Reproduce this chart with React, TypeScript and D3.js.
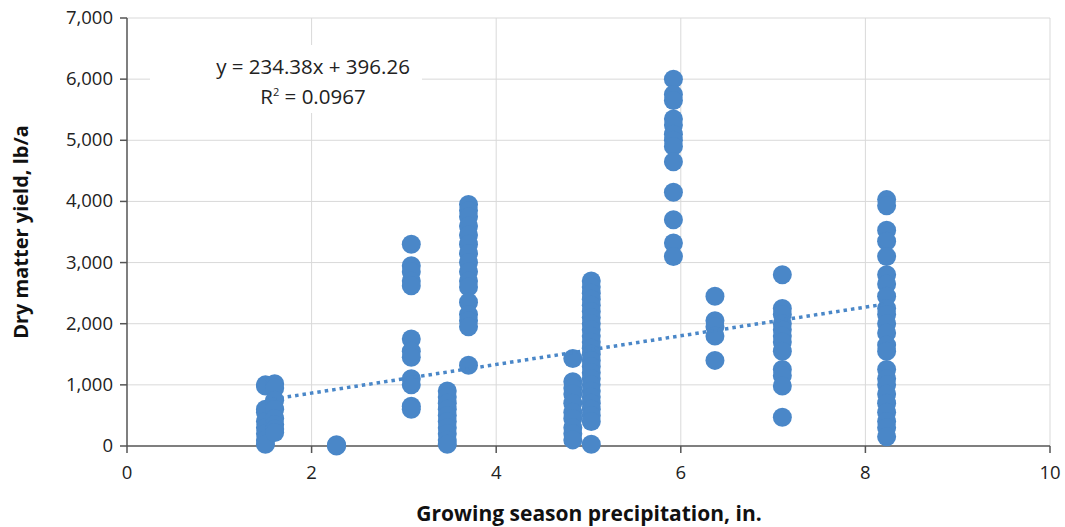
import React from "react";
import * as d3 from "d3";

const xTicks = [0, 2, 4, 6, 8, 10];
const yTicks = [0, 1000, 2000, 3000, 4000, 5000, 6000, 7000];
const clusterX = [1.5, 1.6, 2.27, 3.08, 3.47, 3.7, 4.83, 5.03, 5.92, 6.37, 7.1, 8.23];
const clusterY: number[][] = [
  [1000, 980, 600, 550, 400, 300, 200, 100, 30],
  [1020, 950, 750, 600, 450, 350, 280, 220],
  [20, 0, 10],
  [3300, 2950, 2850, 2700, 2620, 1750, 1550, 1450, 1100, 1000, 650, 600],
  [900, 800, 700, 600, 500, 400, 300, 200, 100, 30],
  [3950, 3850, 3750, 3600, 3450, 3300, 3150, 3000, 2850, 2700, 2600, 2350, 2150, 2050, 1950, 1320],
  [1430, 1050, 950, 850, 700, 550, 450, 300, 200, 100],
  [2700, 2600, 2500, 2400, 2300, 2200, 2100, 2000, 1900, 1800, 1700, 1600, 1500, 1400, 1300, 1200, 1100, 1000, 900, 800, 700, 600, 500, 400, 30],
  [6000, 5750, 5650, 5350, 5250, 5100, 5000, 4900, 4650, 4150, 3700, 3320, 3100],
  [2450, 2050, 1950, 1800, 1400],
  [2800, 2250, 2150, 2000, 1900, 1800, 1700, 1550, 1250, 1150, 980, 470],
  [4030, 3930, 3530, 3350, 3100, 2800, 2650, 2450, 2250, 2150, 2000, 1850, 1650, 1550, 1250, 1100, 1000, 850, 700, 550, 400, 300, 150],
];
const slope = 234.38;
const intercept = 396.26;

export default function App() {
  const x = d3.scaleLinear().domain([0, 10]).range([127, 1050]);
  const y = d3.scaleLinear().domain([0, 7000]).range([446, 18]);
  const color = "#4a87c8";
  const font = "'Open Sans', 'Liberation Sans', sans-serif";
  const pts = clusterX.flatMap((cx, i) => clusterY[i].map((v) => [cx, v]));
  const x0 = clusterX[0], x1 = clusterX[clusterX.length - 1];
  return (
    <svg width={1065} height={527} style={{ position: "absolute", left: 0, top: 0 }} fontFamily={font}>
      <rect width={1065} height={527} fill="#fff" />
      {yTicks.slice(1).map((t) => (
        <line key={"h" + t} x1={x(0)} x2={x(10)} y1={y(t)} y2={y(t)} stroke="#d9d9d9" strokeWidth={1} />
      ))}
      {xTicks.slice(1).map((t) => (
        <line key={"v" + t} x1={x(t)} x2={x(t)} y1={y(0)} y2={y(7000)} stroke="#d9d9d9" strokeWidth={1} />
      ))}
      <rect x={150} y={45} width={272} height={68} fill="#fff" />
      <text x={313} y={74} textAnchor="middle" fontSize={20.5} fill="#222">y = 234.38x + 396.26</text>
      <text x={313} y={104} textAnchor="middle" fontSize={20.5} fill="#222">
        R<tspan dy={-8} fontSize={11}>2</tspan><tspan dy={8}> = 0.0967</tspan>
      </text>
      <line x1={x(0)} x2={x(0)} y1={y(0)} y2={y(7000)} stroke="#555" strokeWidth={1.5} />
      <line x1={x(0)} x2={x(10)} y1={y(0)} y2={y(0)} stroke="#555" strokeWidth={1.5} />
      {yTicks.map((t) => (
        <g key={"yt" + t}>
          <line x1={x(0) - 7} x2={x(0)} y1={y(t)} y2={y(t)} stroke="#555" strokeWidth={1.5} />
          <text x={x(0) - 14} y={y(t) + 6} textAnchor="end" fontSize={18.5} fill="#222">{d3.format(",")(t)}</text>
        </g>
      ))}
      {xTicks.map((t) => (
        <g key={"xt" + t}>
          <line x1={x(t)} x2={x(t)} y1={y(0)} y2={y(0) + 7} stroke="#555" strokeWidth={1.5} />
          <text x={x(t)} y={y(0) + 33} textAnchor="middle" fontSize={18.5} fill="#222">{t}</text>
        </g>
      ))}
      {pts.map(([px, py], i) => (
        <circle key={i} cx={x(px)} cy={y(py)} r={9.5} fill={color} />
      ))}
      <line x1={x(x0)} y1={y(slope * x0 + intercept)} x2={x(x1)} y2={y(slope * x1 + intercept)}
        stroke="#4a87c8" strokeWidth={3.5} strokeDasharray="3.5 4" />
      <text x={589} y={521} textAnchor="middle" fontSize={21} fontWeight="bold" fill="#111">Growing season precipitation, in.</text>
      <text transform="translate(28,232) rotate(-90)" textAnchor="middle" fontSize={20} fontWeight="bold" fill="#111">Dry matter yield, lb/a</text>
    </svg>
  );
}
